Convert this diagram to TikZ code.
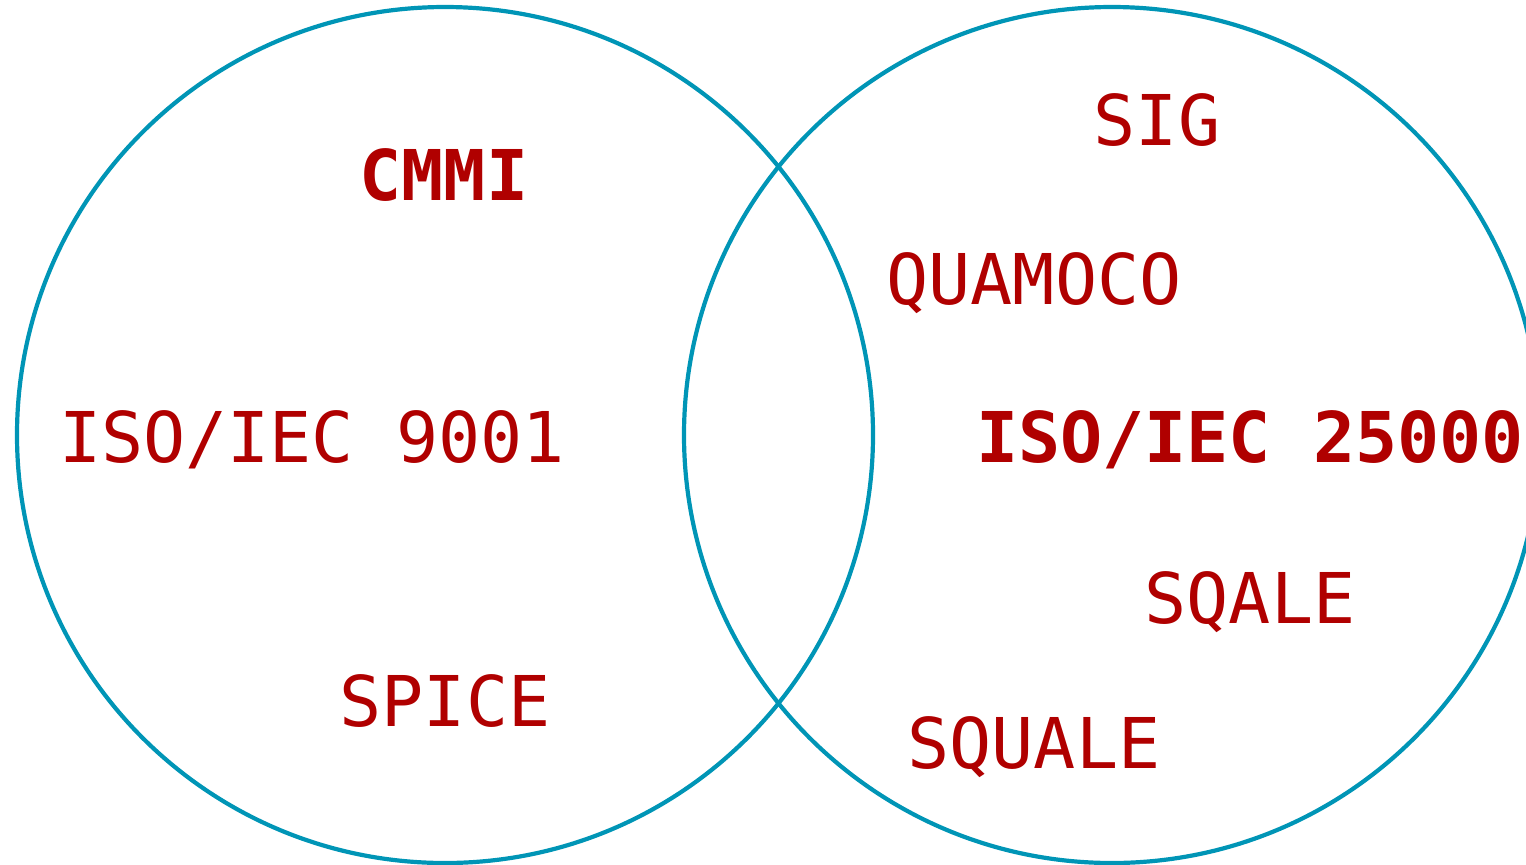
\documentclass[tikz,border=0pt]{standalone}
\usepackage{fontspec}
\setmonofont{DejaVu Sans Mono}
\definecolor{ringblue}{HTML}{0095B6}
\definecolor{labelred}{HTML}{B00000}

\begin{document}
\begin{tikzpicture}[
	x=0.5pt, y=-0.5pt,
	ring/.style = {
		draw=ringblue,
		line width=2.1pt,
	},
	tag/.style = {
		anchor=base,
		inner sep=0pt,
		text=labelred,
		font=\ttfamily\fontsize{35}{40}\selectfont,
	},
	bigtag/.style = {
		tag,
		font=\ttfamily\bfseries\fontsize{35}{40}\selectfont,
	},
]
\useasboundingbox (0,0) rectangle (1526,864);

% Two rings
\coordinate (lc) at (445,435);
\coordinate (rc) at (1112,435);
\draw [ring] (lc) circle [radius=214pt];
\draw [ring] (rc) circle [radius=214pt];

% Left ring
\node [bigtag] (cmmi) at (444,200) {CMMI};
\node [tag] (iso9) at (312,462) {ISO/IEC 9001};
\node [tag] (spice) at (445,726) {SPICE};

% Right ring
\node [tag] (sig) at (1157,145) {SIG};
\node [tag] (quamoco) at (1034,304) {QUAMOCO};
\node [bigtag] (iso25) at (1250,462) {ISO/IEC 25000};
\node [tag] (sqale) at (1250,623) {SQALE};
\node [tag] (squale) at (1034,768) {SQUALE};

\end{tikzpicture}
\end{document}
